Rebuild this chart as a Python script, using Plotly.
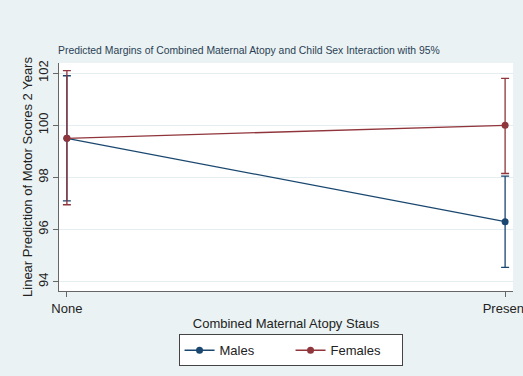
import plotly.graph_objects as go

# Combined maternal atopy status categories
categories = ["None", "Present"]
x_pos = [0, 1]

# Predicted margins with 95% confidence limits
males_margin = [99.5, 96.3]
males_upper = [101.9, 98.05]
males_lower = [97.1, 94.55]

females_margin = [99.5, 100.0]
females_upper = [102.1, 101.8]
females_lower = [96.95, 98.15]

y_ticks = [94, 96, 98, 100, 102]

MALE_COLOR = "#1a476f"
FEMALE_COLOR = "#90353b"
BG = "#eaf2f3"
FONT = "Liberation Sans, Arial, sans-serif"


def series(name, margin, upper, lower, color):
    return go.Scatter(
        x=x_pos,
        y=margin,
        name=name,
        mode="lines+markers",
        line=dict(color=color, width=1.3),
        marker=dict(color=color, size=7),
        error_y=dict(
            type="data",
            symmetric=False,
            array=[u - m for u, m in zip(upper, margin)],
            arrayminus=[m - l for m, l in zip(margin, lower)],
            color=color,
            thickness=1.3,
            width=4,
        ),
    )


fig = go.Figure()
fig.add_trace(series("Males", males_margin, males_upper, males_lower, MALE_COLOR))
fig.add_trace(series("Females", females_margin, females_upper, females_lower, FEMALE_COLOR))

fig.update_layout(
    width=523,
    height=376,
    margin=dict(l=59, r=10, t=63, b=79),
    paper_bgcolor=BG,
    plot_bgcolor="white",
    font=dict(family=FONT, color="#222222", size=13),
    title=dict(
        text="Predicted Margins of Combined Maternal Atopy and Child Sex Interaction with 95%",
        x=58 / 523,
        xanchor="left",
        y=1 - 50 / 376,
        yanchor="middle",
        font=dict(size=10.4, color="#2a3f55", family=FONT),
    ),
    showlegend=True,
    legend=dict(
        orientation="h",
        x=0.51,
        xanchor="center",
        y=-0.19,
        yanchor="top",
        bgcolor="white",
        bordercolor="#444444",
        borderwidth=1,
        font=dict(size=13, family=FONT, color="#222222"),
        entrywidth=66,
        entrywidthmode="pixels",
    ),
)

fig.update_xaxes(
    range=[-0.018, 1.018],
    tickvals=x_pos,
    ticktext=categories,
    ticklabeloverflow="allow",
    automargin=False,
    showgrid=False,
    zeroline=False,
    showline=True,
    linecolor="#666666",
    linewidth=1.3,
    ticks="outside",
    ticklen=5,
    tickcolor="#666666",
    tickfont=dict(size=13),
    title=dict(text="Combined Maternal Atopy Staus", font=dict(size=13), standoff=4),
)

fig.update_yaxes(
    range=[93.64, 102.39],
    tickvals=y_ticks,
    tickangle=-90,
    automargin=False,
    showgrid=True,
    gridcolor="#e4eef0",
    gridwidth=1,
    zeroline=False,
    showline=True,
    linecolor="#666666",
    linewidth=1.3,
    ticks="outside",
    ticklen=5,
    tickcolor="#666666",
    tickfont=dict(size=13),
    title=dict(text="Linear Prediction of Motor Scores 2 Years", font=dict(size=13), standoff=0),
)

fig.write_html("out.html")
